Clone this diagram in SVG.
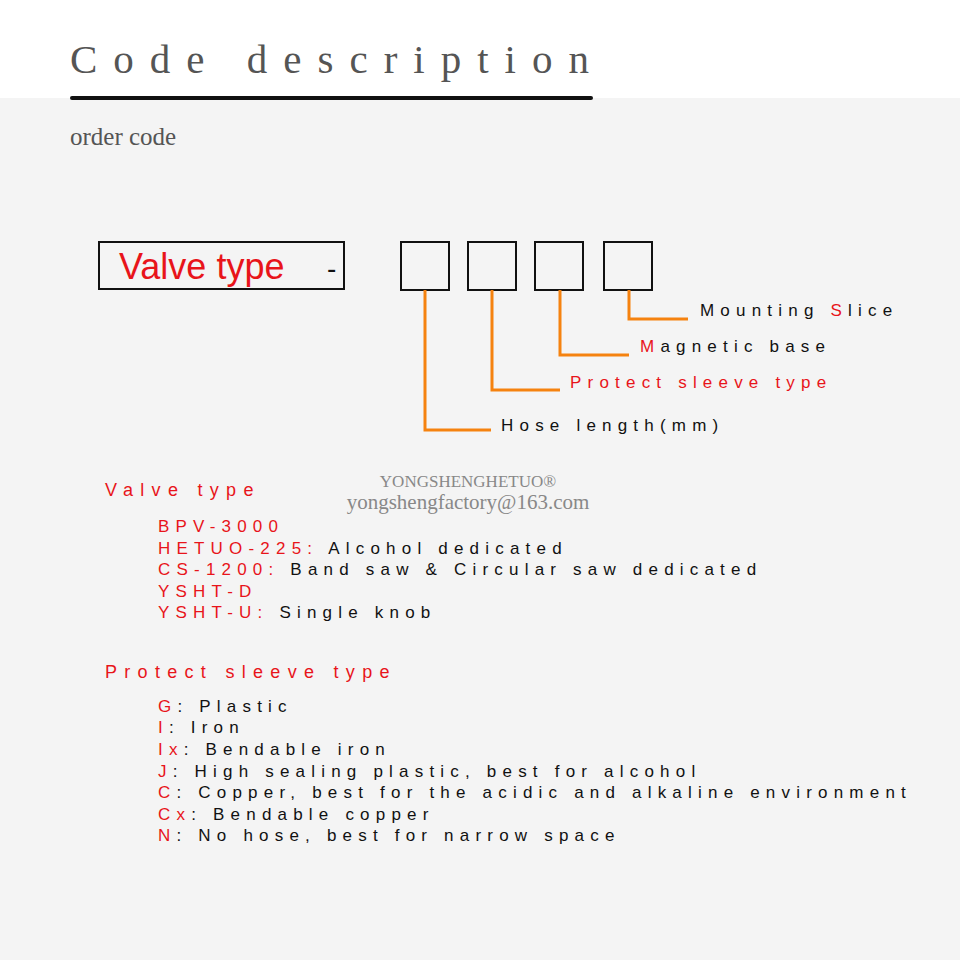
<svg xmlns="http://www.w3.org/2000/svg" width="960" height="960" viewBox="0 0 960 960">
<style>
.s{font-family:"Liberation Sans",Arial,sans-serif;font-size:17px;letter-spacing:6.2px;fill:#111}
.r{fill:#e8141a}
.h{font-size:18px;letter-spacing:7.3px}
.box{fill:none;stroke:#111;stroke-width:2}
.ln{fill:none;stroke:#f5820f;stroke-width:3}
.serif{font-family:"Liberation Serif","Times New Roman",serif}
</style>
<rect width="960" height="960" fill="#f4f4f4"/>
<rect width="960" height="98" fill="#ffffff"/>
<text class="serif" x="70" y="73" font-size="41" letter-spacing="16" fill="#555">Code description</text>
<rect x="70" y="96" width="523" height="4" rx="2" fill="#111"/>
<text class="serif" x="70" y="145" font-size="25" fill="#555">order code</text>
<g id="valve-box"><rect class="box" x="99" y="242" width="245" height="47"/>
<text x="119" y="279" font-family="Liberation Sans,Arial,sans-serif" font-size="36" fill="#e8141a">Valve type</text>
<text x="327" y="278" font-family="Liberation Sans,Arial,sans-serif" font-size="28" fill="#111">-</text></g>
<g id="box1"><rect class="box" x="401" y="242" width="48" height="48"/></g>
<g id="box2"><rect class="box" x="468" y="242" width="48" height="48"/></g>
<g id="box3"><rect class="box" x="535" y="242" width="48" height="48"/></g>
<g id="box4"><rect class="box" x="604" y="242" width="48" height="48"/></g>
<g id="connectors">
<polyline class="ln" points="425,290 425,430 491,430"/>
<polyline class="ln" points="492,290 492,390 560,390"/>
<polyline class="ln" points="560,290 560,355 629,355"/>
<polyline class="ln" points="629,290 629,319 688,319"/>
</g>
<text class="s" x="700" y="316">Mounting <tspan class="r">S</tspan>lice</text>
<text class="s" x="640" y="352"><tspan class="r">M</tspan>agnetic base</text>
<text class="s r" x="570" y="388">Protect sleeve type</text>
<text class="s" x="501" y="431">Hose length(mm)</text>
<text class="serif" x="468" y="487" font-size="17" fill="#888" text-anchor="middle">YONGSHENGHETUO®</text>
<text class="serif" x="468" y="509" font-size="21" fill="#888" text-anchor="middle">yongshengfactory@163.com</text>
<text class="s r h" x="105" y="496">Valve type</text>
<text class="s" x="158" y="532"><tspan class="r">BPV-3000</tspan></text>
<text class="s" x="158" y="554"><tspan class="r">HETUO-225:</tspan> Alcohol dedicated</text>
<text class="s" x="158" y="575"><tspan class="r">CS-1200:</tspan> Band saw &amp; Circular saw dedicated</text>
<text class="s" x="158" y="597"><tspan class="r">YSHT-D</tspan></text>
<text class="s" x="158" y="618"><tspan class="r">YSHT-U:</tspan> Single knob</text>
<text class="s r h" x="105" y="678">Protect sleeve type</text>
<text class="s" x="158" y="712"><tspan class="r">G</tspan>: Plastic</text>
<text class="s" x="158" y="733"><tspan class="r">I</tspan>: Iron</text>
<text class="s" x="158" y="755"><tspan class="r">Ix</tspan>: Bendable iron</text>
<text class="s" x="158" y="777"><tspan class="r">J</tspan>: High sealing plastic, best for alcohol</text>
<text class="s" x="158" y="798"><tspan class="r">C</tspan>: Copper, best for the acidic and alkaline environment</text>
<text class="s" x="158" y="820"><tspan class="r">Cx</tspan>: Bendable copper</text>
<text class="s" x="158" y="841"><tspan class="r">N</tspan>: No hose, best for narrow space</text>
</svg>
